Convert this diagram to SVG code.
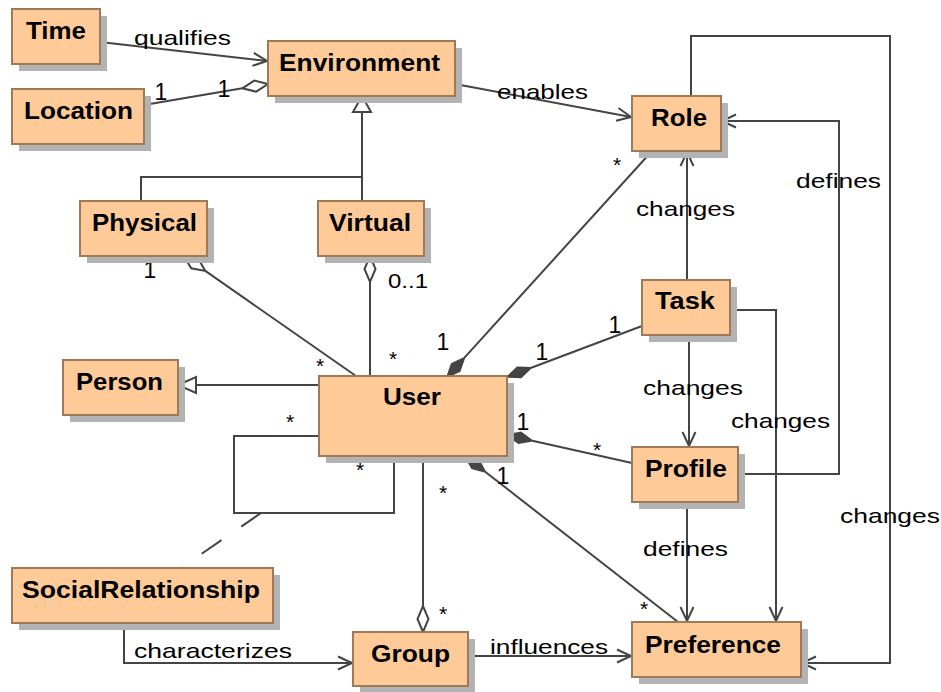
<svg xmlns="http://www.w3.org/2000/svg" width="941" height="692" viewBox="0 0 941 692">
  <style>
    .box { fill: #FECB98; stroke: #9E7A58; stroke-width: 2; }
    .shadow { fill: #B3B3B3; }
    .name { font-family: "Liberation Sans", Arial, sans-serif; font-size: 23px; font-weight: bold; fill: #000; }
    .lbl { font-family: "Liberation Sans", Arial, sans-serif; font-size: 21px; fill: #000; }
    .mult { font-family: "Liberation Sans", Arial, sans-serif; font-size: 23px; fill: #000; text-anchor: middle; }
    .star { font-family: "Liberation Sans", Arial, sans-serif; font-size: 21px; fill: #000; text-anchor: middle; }
    .edge { fill: none; stroke: #444; stroke-width: 2; }
    .arrow { marker-end: url(#open-arrow); }
    .hollow { fill: #fff; stroke: #444; stroke-width: 2; }
    .solid { fill: #444; stroke: #444; stroke-width: 1.5; stroke-linejoin: miter; }
  </style>
  <defs>
    <marker id="open-arrow" markerUnits="userSpaceOnUse" markerWidth="20" markerHeight="20" refX="0" refY="0" viewBox="-16 -10 20 20" orient="auto" overflow="visible">
      <path d="M-14,-6.5 L0,0 L-14,6.5" fill="none" stroke="#444" stroke-width="2"/>
    </marker>
  </defs>

  <rect width="941" height="692" fill="#fff"/>

  <!-- connectors -->
  <g id="connectors">
    <!-- Time qualifies Environment -->
    <line class="edge arrow" x1="100" y1="42" x2="267" y2="61"/>
    <text class="lbl" x="134" y="45" textLength="97" lengthAdjust="spacingAndGlyphs">qualifies</text>

    <!-- Location 1 - 1 Environment (aggregation) -->
    <line class="edge" x1="144" y1="105" x2="242.4" y2="88.3"/>
    <polygon class="hollow" points="268,84 254.2,80.6 242.4,88.3 256.2,91.7"/>
    <text class="mult" x="161" y="100">1</text>
    <text class="mult" x="224" y="97">1</text>

    <!-- Environment enables Role -->
    <line class="edge arrow" x1="455" y1="84" x2="631" y2="117"/>
    <text class="lbl" x="497" y="99" textLength="91" lengthAdjust="spacingAndGlyphs">enables</text>

    <!-- Physical / Virtual generalize Environment -->
    <polyline class="edge" points="141,201 141,177 362,177"/>
    <line class="edge" x1="362" y1="112" x2="362" y2="201"/>
    <polygon class="hollow" points="362,96 353,112 371,112"/>

    <!-- Physical 1 - * User -->
    <line class="edge" x1="205.3" y1="270.9" x2="356" y2="376"/>
    <polygon class="hollow" points="184,256 191.2,268.3 205.3,270.9 198.1,258.5"/>
    <text class="mult" x="150" y="278">1</text>
    <text class="star" x="320" y="373">*</text>

    <!-- Virtual 0..1 - * User -->
    <line class="edge" x1="370" y1="282" x2="370" y2="376"/>
    <polygon class="hollow" points="370,256 364.5,269 370,282 375.5,269"/>
    <text class="lbl" x="388" y="288" font-size="22" textLength="40" lengthAdjust="spacingAndGlyphs">0..1</text>
    <text class="star" x="393" y="366">*</text>

    <!-- User 1 - * Role -->
    <line class="edge" x1="464.5" y1="357.7" x2="652" y2="151"/>
    <polygon class="solid" points="447,377 451.6,363.7 464.5,357.7 459.8,371.1"/>
    <text class="mult" x="443" y="350">1</text>
    <text class="star" x="617" y="172">*</text>

    <!-- User 1 - 1 Task -->
    <line class="edge" x1="531.3" y1="367.8" x2="642" y2="326"/>
    <polygon class="solid" points="507,377 517.3,367.3 531.3,367.8 521.1,377.5"/>
    <text class="mult" x="542" y="360">1</text>
    <text class="mult" x="615" y="333">1</text>

    <!-- User 1 - * Profile -->
    <line class="edge" x1="532.4" y1="440.7" x2="632" y2="463"/>
    <polygon class="solid" points="507,435 520.9,432.4 532.4,440.7 518.5,443.2"/>
    <text class="mult" x="523" y="430">1</text>
    <text class="star" x="597" y="457">*</text>

    <!-- User 1 - * Preference -->
    <line class="edge" x1="485.5" y1="472" x2="678" y2="622"/>
    <polygon class="solid" points="465,456 478.7,459.7 485.5,472 471.9,468.3"/>
    <text class="mult" x="503" y="484">1</text>
    <text class="star" x="644" y="616">*</text>

    <!-- Task changes Role -->
    <line class="edge arrow" x1="687" y1="280" x2="687" y2="152"/>
    <text class="lbl" x="636" y="216" textLength="99" lengthAdjust="spacingAndGlyphs">changes</text>

    <!-- Profile defines Role -->
    <polyline class="edge arrow" points="738,474 839,474 839,121 722,121"/>
    <text class="lbl" x="796" y="188" textLength="85" lengthAdjust="spacingAndGlyphs">defines</text>

    <!-- Role changes Preference -->
    <polyline class="edge arrow" points="691,96 691,36 890,36 890,663 802,663"/>
    <text class="lbl" x="840" y="523" textLength="100" lengthAdjust="spacingAndGlyphs">changes</text>

    <!-- Task changes Profile -->
    <line class="edge arrow" x1="689" y1="335" x2="689" y2="446"/>
    <text class="lbl" x="643" y="395" textLength="100" lengthAdjust="spacingAndGlyphs">changes</text>

    <!-- Task changes Preference -->
    <polyline class="edge arrow" points="730,310 776,310 776,621"/>
    <text class="lbl" x="731" y="428" textLength="99" lengthAdjust="spacingAndGlyphs">changes</text>

    <!-- Profile defines Preference -->
    <line class="edge arrow" x1="687" y1="502" x2="687" y2="621"/>
    <text class="lbl" x="643" y="556" textLength="85" lengthAdjust="spacingAndGlyphs">defines</text>

    <!-- User generalizes Person -->
    <line class="edge" x1="319" y1="385" x2="196" y2="385"/>
    <polygon class="hollow" points="178,385 196,377 196,393"/>

    <!-- User * - * User (social relationship) -->
    <polyline class="edge" points="319,436 234,436 234,513 394,513 394,456"/>
    <text class="star" x="290" y="429">*</text>
    <text class="star" x="360" y="477">*</text>
    <line class="edge" x1="261" y1="513" x2="181" y2="568" stroke-dasharray="24,24"/>

    <!-- User * - * Group -->
    <line class="edge" x1="423" y1="456" x2="423" y2="606"/>
    <polygon class="hollow" points="423,632 417.5,619 423,606 428.5,619"/>
    <text class="star" x="443" y="500">*</text>
    <text class="star" x="443" y="621">*</text>

    <!-- SocialRelationship characterizes Group -->
    <polyline class="edge arrow" points="124,623 124,663 352,663"/>
    <text class="lbl" x="134" y="658" textLength="158" lengthAdjust="spacingAndGlyphs">characterizes</text>

    <!-- Group influences Preference -->
    <line class="edge arrow" x1="468" y1="656" x2="631" y2="656"/>
    <text class="lbl" x="490" y="654" textLength="118" lengthAdjust="spacingAndGlyphs">influences</text>
  </g>

  <!-- classes -->
  <g id="time">
    <rect class="shadow" x="19" y="16" width="88" height="55"/>
    <rect class="box" x="12" y="9" width="88" height="55"/>
    <text class="name" x="26" y="39" textLength="60" lengthAdjust="spacingAndGlyphs">Time</text>
  </g>
  <g id="location">
    <rect class="shadow" x="19" y="96" width="132" height="55"/>
    <rect class="box" x="12" y="89" width="132" height="55"/>
    <text class="name" x="24" y="119" textLength="109" lengthAdjust="spacingAndGlyphs">Location</text>
  </g>
  <g id="environment">
    <rect class="shadow" x="275" y="48" width="187" height="55"/>
    <rect class="box" x="268" y="41" width="187" height="55"/>
    <text class="name" x="279" y="71" textLength="161" lengthAdjust="spacingAndGlyphs">Environment</text>
  </g>
  <g id="role">
    <rect class="shadow" x="639" y="103" width="89" height="55"/>
    <rect class="box" x="632" y="96" width="89" height="55"/>
    <text class="name" x="651" y="126" textLength="56" lengthAdjust="spacingAndGlyphs">Role</text>
  </g>
  <g id="physical">
    <rect class="shadow" x="87" y="208" width="127" height="55"/>
    <rect class="box" x="80" y="201" width="127" height="55"/>
    <text class="name" x="92" y="231" textLength="105" lengthAdjust="spacingAndGlyphs">Physical</text>
  </g>
  <g id="virtual">
    <rect class="shadow" x="325" y="208" width="106" height="55"/>
    <rect class="box" x="318" y="201" width="106" height="55"/>
    <text class="name" x="329" y="231" textLength="82" lengthAdjust="spacingAndGlyphs">Virtual</text>
  </g>
  <g id="task">
    <rect class="shadow" x="649" y="287" width="88" height="55"/>
    <rect class="box" x="642" y="280" width="88" height="55"/>
    <text class="name" x="655" y="309" textLength="60" lengthAdjust="spacingAndGlyphs">Task</text>
  </g>
  <g id="person">
    <rect class="shadow" x="70" y="367" width="115" height="55"/>
    <rect class="box" x="63" y="360" width="115" height="55"/>
    <text class="name" x="76" y="390" textLength="87" lengthAdjust="spacingAndGlyphs">Person</text>
  </g>
  <g id="user">
    <rect class="shadow" x="326" y="383" width="188" height="80"/>
    <rect class="box" x="319" y="376" width="188" height="80"/>
    <text class="name" x="383" y="405" textLength="58" lengthAdjust="spacingAndGlyphs">User</text>
  </g>
  <g id="profile">
    <rect class="shadow" x="639" y="454" width="106" height="55"/>
    <rect class="box" x="632" y="447" width="106" height="55"/>
    <text class="name" x="645" y="477" textLength="82" lengthAdjust="spacingAndGlyphs">Profile</text>
  </g>
  <g id="social-relationship">
    <rect class="shadow" x="19" y="575" width="261" height="55"/>
    <rect class="box" x="12" y="568" width="261" height="55"/>
    <text class="name" x="22" y="598" textLength="238" lengthAdjust="spacingAndGlyphs">SocialRelationship</text>
  </g>
  <g id="group">
    <rect class="shadow" x="360" y="639" width="115" height="54"/>
    <rect class="box" x="353" y="632" width="115" height="54"/>
    <text class="name" x="371" y="662" textLength="79" lengthAdjust="spacingAndGlyphs">Group</text>
  </g>
  <g id="preference">
    <rect class="shadow" x="639" y="629" width="169" height="55"/>
    <rect class="box" x="632" y="622" width="169" height="55"/>
    <text class="name" x="645" y="653" textLength="136" lengthAdjust="spacingAndGlyphs">Preference</text>
  </g>
</svg>
